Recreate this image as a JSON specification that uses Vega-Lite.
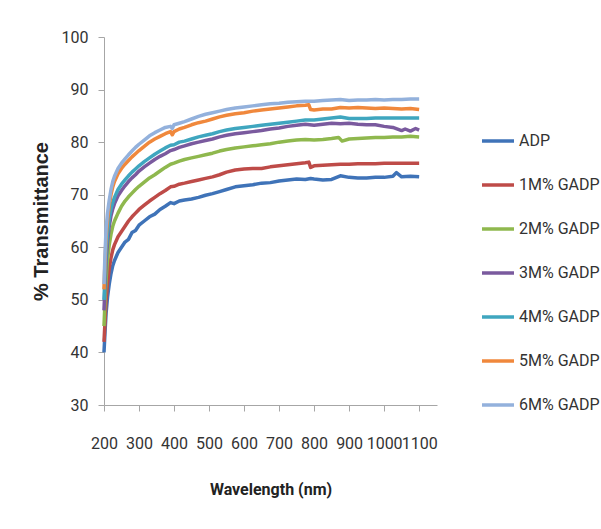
{
  "$schema": "https://vega.github.io/schema/vega-lite/v6.json",
  "autosize": "none",
  "width": 333,
  "height": 368,
  "padding": {"left": 104, "top": 37, "right": 164, "bottom": 124},
  "background": "white",
  "config": {
    "view": {"stroke": null},
    "font": "Roboto, sans-serif"
  },
  "data": {"values": [
    {"w":200,"s":"ADP","t":40},{"w":203,"s":"ADP","t":44},{"w":206,"s":"ADP","t":47.5},{"w":210,"s":"ADP","t":50.5},{"w":215,"s":"ADP","t":53},{"w":220,"s":"ADP","t":55},{"w":225,"s":"ADP","t":56.5},{"w":230,"s":"ADP","t":57.5},{"w":240,"s":"ADP","t":59},{"w":250,"s":"ADP","t":60},{"w":260,"s":"ADP","t":61},{"w":270,"s":"ADP","t":61.5},{"w":280,"s":"ADP","t":62.8},{"w":290,"s":"ADP","t":63.2},{"w":300,"s":"ADP","t":64.2},{"w":315,"s":"ADP","t":65},{"w":330,"s":"ADP","t":65.8},{"w":345,"s":"ADP","t":66.3},{"w":360,"s":"ADP","t":67.2},{"w":375,"s":"ADP","t":67.8},{"w":390,"s":"ADP","t":68.5},{"w":400,"s":"ADP","t":68.3},{"w":415,"s":"ADP","t":68.8},{"w":430,"s":"ADP","t":69},{"w":450,"s":"ADP","t":69.2},{"w":470,"s":"ADP","t":69.5},{"w":490,"s":"ADP","t":69.9},{"w":510,"s":"ADP","t":70.2},{"w":530,"s":"ADP","t":70.6},{"w":550,"s":"ADP","t":71},{"w":575,"s":"ADP","t":71.5},{"w":600,"s":"ADP","t":71.7},{"w":625,"s":"ADP","t":71.9},{"w":650,"s":"ADP","t":72.2},{"w":675,"s":"ADP","t":72.3},{"w":700,"s":"ADP","t":72.6},{"w":725,"s":"ADP","t":72.8},{"w":750,"s":"ADP","t":73},{"w":775,"s":"ADP","t":72.9},{"w":790,"s":"ADP","t":73.1},{"w":800,"s":"ADP","t":73},{"w":825,"s":"ADP","t":72.8},{"w":850,"s":"ADP","t":72.9},{"w":875,"s":"ADP","t":73.6},{"w":900,"s":"ADP","t":73.3},{"w":925,"s":"ADP","t":73.2},{"w":950,"s":"ADP","t":73.2},{"w":975,"s":"ADP","t":73.3},{"w":1000,"s":"ADP","t":73.3},{"w":1025,"s":"ADP","t":73.5},{"w":1035,"s":"ADP","t":74.2},{"w":1050,"s":"ADP","t":73.4},{"w":1075,"s":"ADP","t":73.5},{"w":1100,"s":"ADP","t":73.4},

    {"w":200,"s":"1M% GADP","t":42},{"w":203,"s":"1M% GADP","t":46},{"w":206,"s":"1M% GADP","t":50},{"w":210,"s":"1M% GADP","t":53},{"w":215,"s":"1M% GADP","t":56},{"w":220,"s":"1M% GADP","t":58},{"w":225,"s":"1M% GADP","t":59.5},{"w":230,"s":"1M% GADP","t":60.5},{"w":240,"s":"1M% GADP","t":62},{"w":250,"s":"1M% GADP","t":63},{"w":260,"s":"1M% GADP","t":64},{"w":270,"s":"1M% GADP","t":65},{"w":280,"s":"1M% GADP","t":65.8},{"w":290,"s":"1M% GADP","t":66.5},{"w":300,"s":"1M% GADP","t":67.2},{"w":315,"s":"1M% GADP","t":68},{"w":330,"s":"1M% GADP","t":68.8},{"w":345,"s":"1M% GADP","t":69.5},{"w":360,"s":"1M% GADP","t":70.2},{"w":375,"s":"1M% GADP","t":70.8},{"w":390,"s":"1M% GADP","t":71.5},{"w":400,"s":"1M% GADP","t":71.6},{"w":415,"s":"1M% GADP","t":72},{"w":430,"s":"1M% GADP","t":72.2},{"w":450,"s":"1M% GADP","t":72.5},{"w":470,"s":"1M% GADP","t":72.8},{"w":490,"s":"1M% GADP","t":73.1},{"w":510,"s":"1M% GADP","t":73.4},{"w":530,"s":"1M% GADP","t":73.8},{"w":550,"s":"1M% GADP","t":74.3},{"w":575,"s":"1M% GADP","t":74.7},{"w":600,"s":"1M% GADP","t":74.9},{"w":625,"s":"1M% GADP","t":75},{"w":650,"s":"1M% GADP","t":75},{"w":675,"s":"1M% GADP","t":75.3},{"w":700,"s":"1M% GADP","t":75.5},{"w":725,"s":"1M% GADP","t":75.7},{"w":750,"s":"1M% GADP","t":75.9},{"w":775,"s":"1M% GADP","t":76.1},{"w":785,"s":"1M% GADP","t":76.2},{"w":790,"s":"1M% GADP","t":75.2},{"w":800,"s":"1M% GADP","t":75.5},{"w":825,"s":"1M% GADP","t":75.6},{"w":850,"s":"1M% GADP","t":75.7},{"w":875,"s":"1M% GADP","t":75.8},{"w":900,"s":"1M% GADP","t":75.8},{"w":925,"s":"1M% GADP","t":75.9},{"w":950,"s":"1M% GADP","t":75.9},{"w":975,"s":"1M% GADP","t":75.9},{"w":1000,"s":"1M% GADP","t":76},{"w":1025,"s":"1M% GADP","t":76},{"w":1050,"s":"1M% GADP","t":76},{"w":1075,"s":"1M% GADP","t":76},{"w":1100,"s":"1M% GADP","t":76},

    {"w":200,"s":"2M% GADP","t":45},{"w":203,"s":"2M% GADP","t":50},{"w":206,"s":"2M% GADP","t":54},{"w":210,"s":"2M% GADP","t":57.5},{"w":215,"s":"2M% GADP","t":60.5},{"w":220,"s":"2M% GADP","t":62.5},{"w":225,"s":"2M% GADP","t":64},{"w":230,"s":"2M% GADP","t":65},{"w":240,"s":"2M% GADP","t":66.5},{"w":250,"s":"2M% GADP","t":67.8},{"w":260,"s":"2M% GADP","t":68.8},{"w":270,"s":"2M% GADP","t":69.6},{"w":280,"s":"2M% GADP","t":70.3},{"w":290,"s":"2M% GADP","t":71},{"w":300,"s":"2M% GADP","t":71.6},{"w":315,"s":"2M% GADP","t":72.4},{"w":330,"s":"2M% GADP","t":73.2},{"w":345,"s":"2M% GADP","t":73.8},{"w":360,"s":"2M% GADP","t":74.5},{"w":375,"s":"2M% GADP","t":75.2},{"w":390,"s":"2M% GADP","t":75.8},{"w":400,"s":"2M% GADP","t":76},{"w":415,"s":"2M% GADP","t":76.4},{"w":430,"s":"2M% GADP","t":76.7},{"w":450,"s":"2M% GADP","t":77},{"w":470,"s":"2M% GADP","t":77.3},{"w":490,"s":"2M% GADP","t":77.6},{"w":510,"s":"2M% GADP","t":77.9},{"w":530,"s":"2M% GADP","t":78.3},{"w":550,"s":"2M% GADP","t":78.6},{"w":575,"s":"2M% GADP","t":78.9},{"w":600,"s":"2M% GADP","t":79.1},{"w":625,"s":"2M% GADP","t":79.3},{"w":650,"s":"2M% GADP","t":79.5},{"w":675,"s":"2M% GADP","t":79.7},{"w":700,"s":"2M% GADP","t":80},{"w":725,"s":"2M% GADP","t":80.2},{"w":750,"s":"2M% GADP","t":80.4},{"w":775,"s":"2M% GADP","t":80.5},{"w":800,"s":"2M% GADP","t":80.4},{"w":825,"s":"2M% GADP","t":80.5},{"w":850,"s":"2M% GADP","t":80.7},{"w":870,"s":"2M% GADP","t":80.9},{"w":880,"s":"2M% GADP","t":80.2},{"w":900,"s":"2M% GADP","t":80.6},{"w":925,"s":"2M% GADP","t":80.7},{"w":950,"s":"2M% GADP","t":80.8},{"w":975,"s":"2M% GADP","t":80.9},{"w":1000,"s":"2M% GADP","t":80.9},{"w":1025,"s":"2M% GADP","t":81},{"w":1050,"s":"2M% GADP","t":81},{"w":1075,"s":"2M% GADP","t":81.1},{"w":1100,"s":"2M% GADP","t":81},

    {"w":200,"s":"3M% GADP","t":48},{"w":203,"s":"3M% GADP","t":53},{"w":206,"s":"3M% GADP","t":57.5},{"w":210,"s":"3M% GADP","t":61},{"w":215,"s":"3M% GADP","t":64},{"w":220,"s":"3M% GADP","t":66},{"w":225,"s":"3M% GADP","t":67.3},{"w":230,"s":"3M% GADP","t":68.3},{"w":240,"s":"3M% GADP","t":69.8},{"w":250,"s":"3M% GADP","t":70.8},{"w":260,"s":"3M% GADP","t":71.7},{"w":270,"s":"3M% GADP","t":72.5},{"w":280,"s":"3M% GADP","t":73.2},{"w":290,"s":"3M% GADP","t":73.8},{"w":300,"s":"3M% GADP","t":74.5},{"w":315,"s":"3M% GADP","t":75.3},{"w":330,"s":"3M% GADP","t":76},{"w":345,"s":"3M% GADP","t":76.7},{"w":360,"s":"3M% GADP","t":77.3},{"w":375,"s":"3M% GADP","t":77.8},{"w":390,"s":"3M% GADP","t":78.4},{"w":400,"s":"3M% GADP","t":78.6},{"w":415,"s":"3M% GADP","t":79},{"w":430,"s":"3M% GADP","t":79.3},{"w":450,"s":"3M% GADP","t":79.7},{"w":470,"s":"3M% GADP","t":80},{"w":490,"s":"3M% GADP","t":80.3},{"w":510,"s":"3M% GADP","t":80.6},{"w":530,"s":"3M% GADP","t":81},{"w":550,"s":"3M% GADP","t":81.3},{"w":575,"s":"3M% GADP","t":81.6},{"w":600,"s":"3M% GADP","t":81.8},{"w":625,"s":"3M% GADP","t":82},{"w":650,"s":"3M% GADP","t":82.2},{"w":675,"s":"3M% GADP","t":82.5},{"w":700,"s":"3M% GADP","t":82.7},{"w":725,"s":"3M% GADP","t":83},{"w":750,"s":"3M% GADP","t":83.2},{"w":775,"s":"3M% GADP","t":83.4},{"w":800,"s":"3M% GADP","t":83.2},{"w":825,"s":"3M% GADP","t":83.4},{"w":850,"s":"3M% GADP","t":83.6},{"w":875,"s":"3M% GADP","t":83.5},{"w":900,"s":"3M% GADP","t":83.6},{"w":925,"s":"3M% GADP","t":83.4},{"w":950,"s":"3M% GADP","t":83.3},{"w":975,"s":"3M% GADP","t":83.3},{"w":1000,"s":"3M% GADP","t":83},{"w":1025,"s":"3M% GADP","t":82.8},{"w":1050,"s":"3M% GADP","t":82.2},{"w":1060,"s":"3M% GADP","t":82.5},{"w":1075,"s":"3M% GADP","t":82.1},{"w":1090,"s":"3M% GADP","t":82.6},{"w":1100,"s":"3M% GADP","t":82.3},

    {"w":200,"s":"4M% GADP","t":50},{"w":203,"s":"4M% GADP","t":55},{"w":206,"s":"4M% GADP","t":59.5},{"w":210,"s":"4M% GADP","t":62.5},{"w":215,"s":"4M% GADP","t":65.5},{"w":220,"s":"4M% GADP","t":67.3},{"w":225,"s":"4M% GADP","t":68.5},{"w":230,"s":"4M% GADP","t":69.5},{"w":240,"s":"4M% GADP","t":71},{"w":250,"s":"4M% GADP","t":72},{"w":260,"s":"4M% GADP","t":72.8},{"w":270,"s":"4M% GADP","t":73.6},{"w":280,"s":"4M% GADP","t":74.3},{"w":290,"s":"4M% GADP","t":74.9},{"w":300,"s":"4M% GADP","t":75.5},{"w":315,"s":"4M% GADP","t":76.3},{"w":330,"s":"4M% GADP","t":77},{"w":345,"s":"4M% GADP","t":77.7},{"w":360,"s":"4M% GADP","t":78.3},{"w":375,"s":"4M% GADP","t":78.9},{"w":390,"s":"4M% GADP","t":79.4},{"w":400,"s":"4M% GADP","t":79.5},{"w":415,"s":"4M% GADP","t":80},{"w":430,"s":"4M% GADP","t":80.2},{"w":450,"s":"4M% GADP","t":80.6},{"w":470,"s":"4M% GADP","t":81},{"w":490,"s":"4M% GADP","t":81.3},{"w":510,"s":"4M% GADP","t":81.6},{"w":530,"s":"4M% GADP","t":82},{"w":550,"s":"4M% GADP","t":82.3},{"w":575,"s":"4M% GADP","t":82.6},{"w":600,"s":"4M% GADP","t":82.8},{"w":625,"s":"4M% GADP","t":83},{"w":650,"s":"4M% GADP","t":83.2},{"w":675,"s":"4M% GADP","t":83.4},{"w":700,"s":"4M% GADP","t":83.6},{"w":725,"s":"4M% GADP","t":83.8},{"w":750,"s":"4M% GADP","t":84},{"w":775,"s":"4M% GADP","t":84.2},{"w":800,"s":"4M% GADP","t":84.2},{"w":825,"s":"4M% GADP","t":84.4},{"w":850,"s":"4M% GADP","t":84.6},{"w":875,"s":"4M% GADP","t":84.8},{"w":900,"s":"4M% GADP","t":84.5},{"w":925,"s":"4M% GADP","t":84.5},{"w":950,"s":"4M% GADP","t":84.5},{"w":975,"s":"4M% GADP","t":84.6},{"w":1000,"s":"4M% GADP","t":84.6},{"w":1025,"s":"4M% GADP","t":84.6},{"w":1050,"s":"4M% GADP","t":84.6},{"w":1075,"s":"4M% GADP","t":84.6},{"w":1100,"s":"4M% GADP","t":84.6},

    {"w":200,"s":"5M% GADP","t":52},{"w":203,"s":"5M% GADP","t":57.5},{"w":206,"s":"5M% GADP","t":62},{"w":210,"s":"5M% GADP","t":65},{"w":215,"s":"5M% GADP","t":68},{"w":220,"s":"5M% GADP","t":70},{"w":225,"s":"5M% GADP","t":71.5},{"w":230,"s":"5M% GADP","t":72.5},{"w":240,"s":"5M% GADP","t":74},{"w":250,"s":"5M% GADP","t":75},{"w":260,"s":"5M% GADP","t":75.8},{"w":270,"s":"5M% GADP","t":76.5},{"w":280,"s":"5M% GADP","t":77.2},{"w":290,"s":"5M% GADP","t":77.8},{"w":300,"s":"5M% GADP","t":78.4},{"w":315,"s":"5M% GADP","t":79.2},{"w":330,"s":"5M% GADP","t":80},{"w":345,"s":"5M% GADP","t":80.6},{"w":360,"s":"5M% GADP","t":81.1},{"w":375,"s":"5M% GADP","t":81.6},{"w":390,"s":"5M% GADP","t":82},{"w":395,"s":"5M% GADP","t":81.4},{"w":400,"s":"5M% GADP","t":82},{"w":415,"s":"5M% GADP","t":82.5},{"w":430,"s":"5M% GADP","t":82.8},{"w":450,"s":"5M% GADP","t":83.3},{"w":470,"s":"5M% GADP","t":83.7},{"w":490,"s":"5M% GADP","t":84},{"w":510,"s":"5M% GADP","t":84.4},{"w":530,"s":"5M% GADP","t":84.8},{"w":550,"s":"5M% GADP","t":85.1},{"w":575,"s":"5M% GADP","t":85.4},{"w":600,"s":"5M% GADP","t":85.6},{"w":625,"s":"5M% GADP","t":85.9},{"w":650,"s":"5M% GADP","t":86.1},{"w":675,"s":"5M% GADP","t":86.3},{"w":700,"s":"5M% GADP","t":86.5},{"w":725,"s":"5M% GADP","t":86.7},{"w":750,"s":"5M% GADP","t":86.9},{"w":775,"s":"5M% GADP","t":87},{"w":785,"s":"5M% GADP","t":87.1},{"w":790,"s":"5M% GADP","t":86.2},{"w":800,"s":"5M% GADP","t":86.1},{"w":825,"s":"5M% GADP","t":86.3},{"w":850,"s":"5M% GADP","t":86.3},{"w":875,"s":"5M% GADP","t":86.6},{"w":900,"s":"5M% GADP","t":86.5},{"w":925,"s":"5M% GADP","t":86.6},{"w":950,"s":"5M% GADP","t":86.5},{"w":975,"s":"5M% GADP","t":86.4},{"w":1000,"s":"5M% GADP","t":86.5},{"w":1025,"s":"5M% GADP","t":86.4},{"w":1050,"s":"5M% GADP","t":86.3},{"w":1075,"s":"5M% GADP","t":86.4},{"w":1100,"s":"5M% GADP","t":86.2},

    {"w":200,"s":"6M% GADP","t":53},{"w":203,"s":"6M% GADP","t":59},{"w":206,"s":"6M% GADP","t":63.5},{"w":210,"s":"6M% GADP","t":66.5},{"w":215,"s":"6M% GADP","t":69},{"w":220,"s":"6M% GADP","t":71},{"w":225,"s":"6M% GADP","t":72.5},{"w":230,"s":"6M% GADP","t":73.5},{"w":240,"s":"6M% GADP","t":75},{"w":250,"s":"6M% GADP","t":76},{"w":260,"s":"6M% GADP","t":76.8},{"w":270,"s":"6M% GADP","t":77.6},{"w":280,"s":"6M% GADP","t":78.3},{"w":290,"s":"6M% GADP","t":79},{"w":300,"s":"6M% GADP","t":79.6},{"w":315,"s":"6M% GADP","t":80.4},{"w":330,"s":"6M% GADP","t":81.2},{"w":345,"s":"6M% GADP","t":81.8},{"w":360,"s":"6M% GADP","t":82.3},{"w":375,"s":"6M% GADP","t":82.8},{"w":390,"s":"6M% GADP","t":83},{"w":395,"s":"6M% GADP","t":82.6},{"w":400,"s":"6M% GADP","t":83.3},{"w":415,"s":"6M% GADP","t":83.6},{"w":430,"s":"6M% GADP","t":83.9},{"w":450,"s":"6M% GADP","t":84.4},{"w":470,"s":"6M% GADP","t":84.9},{"w":490,"s":"6M% GADP","t":85.3},{"w":510,"s":"6M% GADP","t":85.6},{"w":530,"s":"6M% GADP","t":85.9},{"w":550,"s":"6M% GADP","t":86.2},{"w":575,"s":"6M% GADP","t":86.5},{"w":600,"s":"6M% GADP","t":86.7},{"w":625,"s":"6M% GADP","t":86.9},{"w":650,"s":"6M% GADP","t":87.1},{"w":675,"s":"6M% GADP","t":87.3},{"w":700,"s":"6M% GADP","t":87.4},{"w":725,"s":"6M% GADP","t":87.6},{"w":750,"s":"6M% GADP","t":87.7},{"w":775,"s":"6M% GADP","t":87.8},{"w":800,"s":"6M% GADP","t":87.8},{"w":825,"s":"6M% GADP","t":87.9},{"w":850,"s":"6M% GADP","t":88},{"w":875,"s":"6M% GADP","t":88.1},{"w":900,"s":"6M% GADP","t":87.9},{"w":925,"s":"6M% GADP","t":88},{"w":950,"s":"6M% GADP","t":88},{"w":975,"s":"6M% GADP","t":88.1},{"w":1000,"s":"6M% GADP","t":88},{"w":1025,"s":"6M% GADP","t":88.1},{"w":1050,"s":"6M% GADP","t":88.1},{"w":1075,"s":"6M% GADP","t":88.2},{"w":1100,"s":"6M% GADP","t":88.2}
  ]},
  "mark": {"type": "line", "strokeWidth": 3.5, "strokeJoin": "round"},
  "encoding": {
    "x": {
      "field": "w", "type": "quantitative",
      "scale": {"domain": [200, 1151], "nice": false, "zero": false},
      "axis": {
        "values": [200, 300, 400, 500, 600, 700, 800, 900, 1000, 1100],
        "format": "d", "grid": false, "labelOverlap": false, "labelFlush": false,
        "domainColor": "#a6a6a6", "tickColor": "#a6a6a6", "tickSize": 6,
        "labelPadding": 24, "labelFontSize": 16, "labelColor": "#333333",
        "title": "Wavelength (nm)", "titleFontSize": 16, "titleFontWeight": "bold",
        "titleColor": "#222222", "titlePadding": 30
      }
    },
    "y": {
      "field": "t", "type": "quantitative",
      "scale": {"domain": [30, 100], "nice": false, "zero": false},
      "axis": {
        "values": [30, 40, 50, 60, 70, 80, 90, 100],
        "grid": false, "labelOverlap": false, "labelFlush": false,
        "domainColor": "#a6a6a6", "tickColor": "#a6a6a6", "tickSize": 6,
        "labelPadding": 10, "labelFontSize": 16, "labelColor": "#333333",
        "title": "% Transmittance", "titleFont": "Liberation Sans, Arial, sans-serif",
        "titleFontSize": 20, "titleFontWeight": "bold", "titleColor": "#222222",
        "titlePadding": 10
      }
    },
    "color": {
      "field": "s", "type": "nominal",
      "scale": {
        "domain": ["ADP", "1M% GADP", "2M% GADP", "3M% GADP", "4M% GADP", "5M% GADP", "6M% GADP"],
        "range": ["#3f73b8", "#be4b48", "#8fb84e", "#7a5a9e", "#3fa6bf", "#f0883c", "#93b1dc"]
      },
      "legend": {
        "title": null, "orient": "none", "legendX": 376, "legendY": 86,
        "padding": 0, "symbolType": "stroke", "symbolSize": 1024, "symbolStrokeWidth": 3.5,
        "rowPadding": 18, "labelOffset": 3, "labelFontSize": 16, "labelColor": "#333333",
        "labelLimit": 200
      }
    }
  }
}
